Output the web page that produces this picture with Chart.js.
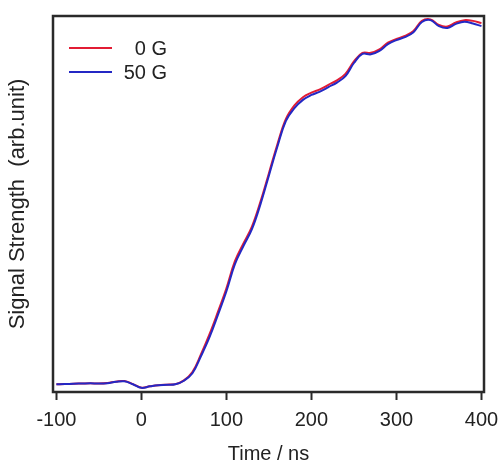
<!DOCTYPE html>
<html>
<head>
<meta charset="utf-8">
<script src="https://cdn.jsdelivr.net/npm/chart.js@4.4.1/dist/chart.umd.min.js"></script>
<style>
  html, body { margin: 0; padding: 0; background: #fff; }
  #wrap { width: 503px; height: 464px; }
</style>
</head>
<body>
<div id="wrap"><canvas id="c" width="503" height="464"></canvas></div>
<script>
// ---- data ----
const times = [-100,-90,-80,-70,-60,-50,-40,-30,-20,-10,0,10,20,30,40,50,60,70,80,90,100,110,120,130,140,150,160,170,180,190,200,210,220,230,240,250,260,270,280,290,300,310,320,330,340,350,360,370,380,390,400];
const signal0G = [2.05,2.1,2.2,2.25,2.3,2.25,2.4,2.75,2.9,2.1,1.15,1.5,1.8,1.95,2.1,3.1,5.3,10.0,15.3,21.3,27.6,34.8,39.5,44.0,50.6,58.2,65.9,72.6,76.2,78.4,79.6,80.5,81.7,82.9,84.6,87.9,90.2,90.2,91.1,92.9,93.9,94.7,96.0,98.7,99.1,97.6,97.2,98.3,98.9,98.7,98.1];
const signal50G = [2.05,2.1,2.2,2.25,2.3,2.25,2.35,2.7,2.85,2.05,1.1,1.5,1.8,1.9,2.05,3.0,5.0,9.5,14.5,20.5,26.8,34.0,38.8,43.3,49.9,57.6,65.3,72.1,75.5,77.7,79.0,79.9,81.1,82.3,84.0,87.5,89.9,89.8,90.7,92.5,93.6,94.4,95.7,98.4,98.9,97.3,96.8,97.9,98.5,98.0,97.3];
const seriesLabels = ['0 G', '50 G'];
const xTickValues = [-100, 0, 100, 200, 300, 400];
const xTitle = 'Time / ns';
const yTitle = 'Signal Strength  (arb.unit)';

const FONT = '"Liberation Sans", Arial, Helvetica, sans-serif';
const RED = 'rgb(226,28,52)';
const BLUE = 'rgb(36,40,196)';

const toPts = arr => times.map((t, i) => ({ x: t, y: arr[i] }));

const framePlugin = {
  id: 'frame',
  afterDatasetsDraw(chart) {
    const { ctx, chartArea: a } = chart;
    ctx.save();
    ctx.strokeStyle = '#2a2a2a';
    ctx.lineWidth = 2.5;
    ctx.strokeRect(a.left, a.top, a.right - a.left, a.bottom - a.top);
    ctx.restore();
  }
};

const legendPlugin = {
  id: 'innerLegend',
  afterDraw(chart) {
    const { ctx, chartArea: a } = chart;
    ctx.save();
    ctx.font = '20px ' + FONT;
    ctx.textBaseline = 'middle';
    ctx.textAlign = 'right';
    chart.data.datasets.forEach((ds, i) => {
      const y = a.top + 32 + i * 24;
      ctx.strokeStyle = ds.borderColor;
      ctx.lineWidth = 2;
      ctx.beginPath();
      ctx.moveTo(a.left + 16, y);
      ctx.lineTo(a.left + 59, y);
      ctx.stroke();
      ctx.fillStyle = '#222';
      ctx.fillText(ds.label, a.left + 114, y + 1);
    });
    ctx.restore();
  }
};

new Chart(document.getElementById('c'), {
  type: 'line',
  data: {
    datasets: [
      { label: seriesLabels[0], data: toPts(signal0G), borderColor: RED, borderWidth: 2, pointRadius: 0, tension: 0.4, order: 2 },
      { label: seriesLabels[1], data: toPts(signal50G), borderColor: BLUE, borderWidth: 2, pointRadius: 0, tension: 0.4, order: 1 }
    ]
  },
  options: {
    responsive: false,
    animation: false,
    layout: { padding: { top: 16, right: 19, left: 0, bottom: 0 } },
    plugins: { legend: { display: false }, tooltip: { enabled: false } },
    scales: {
      x: {
        type: 'linear',
        min: -104,
        max: 403,
        afterBuildTicks(scale) { scale.ticks = xTickValues.map(v => ({ value: v })); },
        afterFit(scale) { scale.height = 72; scale.paddingRight = 0; scale.paddingLeft = 0; },
        grid: { drawOnChartArea: false, drawTicks: true, tickLength: 8, tickWidth: 2, tickColor: '#2a2a2a' },
        border: { display: false },
        ticks: { color: '#222', font: { family: FONT, size: 20 }, padding: 8, maxRotation: 0 },
        title: { display: true, text: xTitle, color: '#222', font: { family: FONT, size: 20 }, padding: { top: 0, bottom: -2 } }
      },
      y: {
        min: 0,
        max: 100,
        afterFit(scale) { scale.width = 53; },
        grid: { display: false },
        border: { display: false },
        ticks: { display: false },
        title: { display: true, text: yTitle, color: '#222', font: { family: FONT, size: 22 }, padding: { top: 5, bottom: 0 } }
      }
    }
  },
  plugins: [framePlugin, legendPlugin]
});
</script>
</body>
</html>
